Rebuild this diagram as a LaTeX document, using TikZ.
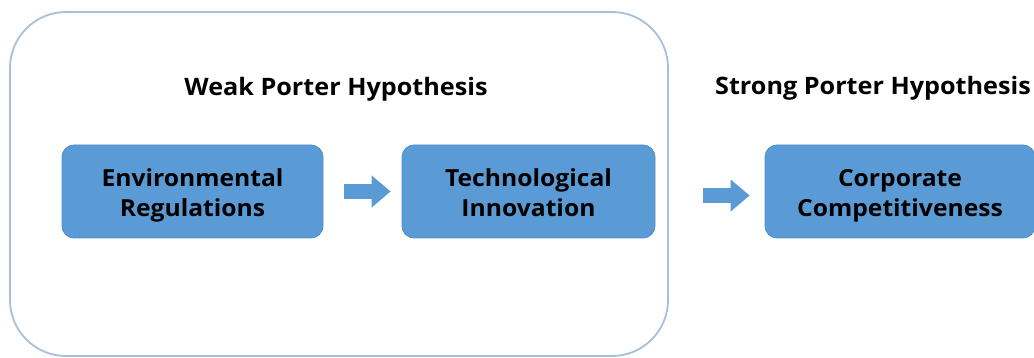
\documentclass[tikz,border=0pt]{standalone}
\usepackage{fontspec}
\setmainfont{Open Sans}[FakeStretch=1.05]
\usetikzlibrary{arrows.meta}
\definecolor{boxblue}{HTML}{5B9BD5}
\definecolor{boxedge}{HTML}{4F8DC8}
\definecolor{frameblue}{HTML}{A8C0DA}
% two centred lines with a fixed outer height, so every box sets its text alike
\newcommand{\twolines}[2]{\rule{0pt}{29pt}#1\\#2\rule[-9pt]{0pt}{9pt}}
\tikzset{
  x=1pt, y=-1pt,
  stage/.style={draw=boxedge, line width=0.8pt, fill=boxblue, rounded corners=12pt,
    align=center, font=\fontsize{23.5}{30.5}\selectfont\bfseries, text=black,
    minimum height=93pt, inner sep=0pt},
  heading/.style={font=\fontsize{24}{28}\selectfont\bfseries, text=black, inner sep=0pt},
  flow/.style={draw=boxblue, line width=15pt,
    -{Triangle[length=19pt, width=31pt]}},
}
\begin{document}
\begin{tikzpicture}
\useasboundingbox (0,0) rectangle (1034,358);
\begin{scope}
\clip (0,0) rectangle (1034,358);
% frame around the weak hypothesis
\draw[frameblue, line width=1.8pt, rounded corners=56pt] (10,12) rectangle (668,356);
\node[heading] (weak) at (336,89) {Weak Porter Hypothesis};
\node[heading] (strong) at (873,88) {Strong Porter Hypothesis};
\node[stage, minimum width=261pt] (env) at (192.5,191.5) {\twolines{Environmental}{Regulations}};
\node[stage, minimum width=253pt] (tech) at (528.5,191.5) {\twolines{Technological}{Innovation}};
\node[stage, minimum width=270pt] (corp) at (900,191.5) {\twolines{Corporate}{Competitiveness}};
\draw[flow, shorten <=21pt, shorten >=11pt] (env.east) -- (tech.west);
\draw[flow, shorten <=48pt, shorten >=15pt] ([yshift=-4pt]tech.east) -- ([yshift=-4pt]corp.west);
\end{scope}
\end{tikzpicture}
\end{document}
